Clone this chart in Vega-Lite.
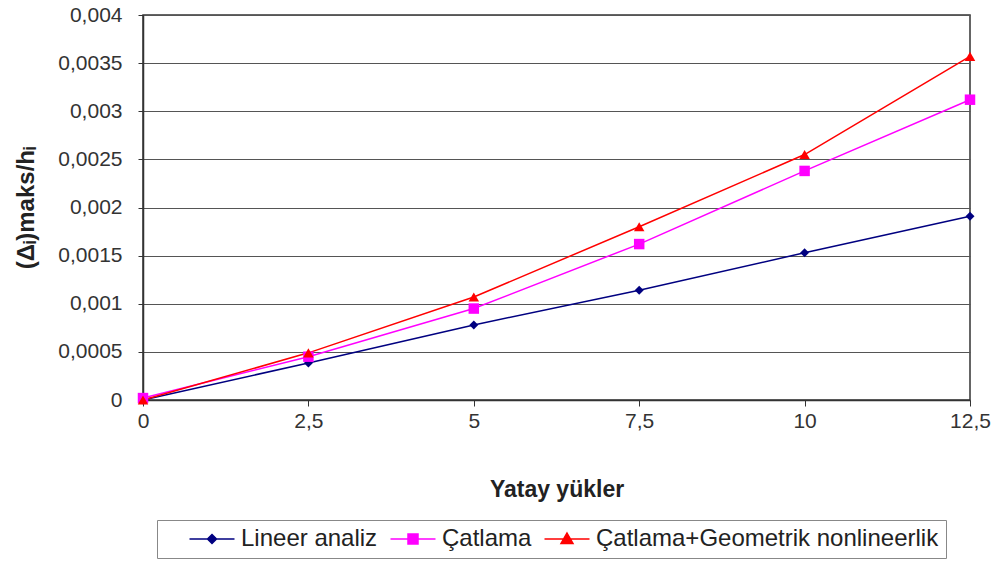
{
  "$schema": "https://vega.github.io/schema/vega-lite/v6.json",
  "autosize": "none",
  "width": 827,
  "height": 385,
  "padding": {"left": 143, "top": 15, "right": 30, "bottom": 162},
  "background": "white",
  "config": {
    "font": "Liberation Sans",
    "view": {"stroke": "#333", "strokeWidth": 1.5}
  },
  "data": {
    "values": [
      {"x": 0, "y": 0, "s": "Lineer analiz"},
      {"x": 2.5, "y": 0.000385, "s": "Lineer analiz"},
      {"x": 5, "y": 0.00078, "s": "Lineer analiz"},
      {"x": 7.5, "y": 0.00114, "s": "Lineer analiz"},
      {"x": 10, "y": 0.00153, "s": "Lineer analiz"},
      {"x": 12.5, "y": 0.00191, "s": "Lineer analiz"},
      {"x": 0, "y": 0.00002, "s": "Çatlama"},
      {"x": 2.5, "y": 0.00045, "s": "Çatlama"},
      {"x": 5, "y": 0.00095, "s": "Çatlama"},
      {"x": 7.5, "y": 0.00162, "s": "Çatlama"},
      {"x": 10, "y": 0.00238, "s": "Çatlama"},
      {"x": 12.5, "y": 0.00312, "s": "Çatlama"},
      {"x": 0, "y": 0, "s": "Çatlama+Geometrik nonlineerlik"},
      {"x": 2.5, "y": 0.00049, "s": "Çatlama+Geometrik nonlineerlik"},
      {"x": 5, "y": 0.00107, "s": "Çatlama+Geometrik nonlineerlik"},
      {"x": 7.5, "y": 0.0018, "s": "Çatlama+Geometrik nonlineerlik"},
      {"x": 10, "y": 0.00255, "s": "Çatlama+Geometrik nonlineerlik"},
      {"x": 12.5, "y": 0.00357, "s": "Çatlama+Geometrik nonlineerlik"}
    ]
  },
  "encoding": {
    "x": {
      "field": "x", "type": "quantitative",
      "scale": {"domain": [0, 12.5], "nice": false},
      "axis": {
        "values": [0, 2.5, 5, 7.5, 10, 12.5],
        "grid": false,
        "title": "Yatay yükler",
        "titleFontSize": 23, "titleFontWeight": "bold", "titleColor": "#222",
        "titlePadding": 47,
        "labelFontSize": 21, "labelColor": "#333", "labelPadding": 4,
        "labelExpr": "replace(format(datum.value, ''), '.', ',')",
        "domainColor": "#333", "domainWidth": 1.5,
        "tickColor": "#333", "tickSize": 6,
        "labelFlush": false
      }
    },
    "y": {
      "field": "y", "type": "quantitative",
      "scale": {"domain": [0, 0.004], "nice": false},
      "axis": {
        "values": [0, 0.0005, 0.001, 0.0015, 0.002, 0.0025, 0.003, 0.0035, 0.004],
        "title": "(Δᵢ)maks/hᵢ",
        "titleFontSize": 24, "titleFontWeight": "bold", "titleColor": "#222",
        "titlePadding": 19,
        "labelFontSize": 21, "labelColor": "#333", "labelPadding": 16,
        "labelExpr": "replace(format(datum.value, ''), '.', ',')",
        "gridColor": "#555", "gridWidth": 1.2, "gridOpacity": 1,
        "domainColor": "#333", "domainWidth": 1.5,
        "tickColor": "#333", "tickSize": 5,
        "labelFlush": false
      }
    },
    "color": {
      "field": "s", "type": "nominal",
      "scale": {
        "domain": ["Lineer analiz", "Çatlama", "Çatlama+Geometrik nonlineerlik"],
        "range": ["#000080", "#FF00FF", "#FF0000"]
      }
    }
  },
  "layer": [
    {
      "mark": {"type": "line", "strokeWidth": 1.5},
      "encoding": {
        "color": {
          "field": "s", "type": "nominal",
          "legend": {
            "title": " ",
            "titleOrient": "left",
            "titleFontSize": 10,
            "titlePadding": 24,
            "orient": "none",
            "legendX": 14,
            "legendY": 505,
            "direction": "horizontal",
            "columns": 3,
            "strokeColor": "#888",
            "fillColor": "white",
            "padding": 7,
            "columnPadding": 9,
            "labelFontSize": 24,
            "labelColor": "#222",
            "labelLimit": 400,
            "labelOffset": 17,
            "symbolSize": 400,
            "symbolOffset": 12,
            "symbolStrokeWidth": 1.5,
            "encode": {
              "symbols": {
                "update": {
                  "shape": {"signal": "datum.value == 'Lineer analiz' ? 'M-2.25,0H2.25M0,-0.45L0.45,0L0,0.45L-0.45,0Z' : datum.value == 'Çatlama' ? 'M-2.25,0H2.25M-0.5,-0.5H0.5V0.5H-0.5Z' : 'M-2.25,0H2.25M0,-0.6L0.6,0.45H-0.6Z'"},
                  "fill": {"signal": "scale('color', datum.value)"},
                  "stroke": {"signal": "scale('color', datum.value)"},
                  "strokeWidth": {"value": 1.5},
                  "opacity": {"value": 1}
                }
              }
            }
          }
        }
      }
    },
    {
      "mark": {"type": "point", "filled": true, "opacity": 1},
      "encoding": {
        "color": {"field": "s", "type": "nominal", "legend": null},
        "shape": {
          "condition": [
            {"test": "datum.s == 'Lineer analiz'", "value": "diamond"},
            {"test": "datum.s == 'Çatlama'", "value": "square"}
          ],
          "value": "triangle-up"
        },
        "size": {
          "condition": [
            {"test": "datum.s == 'Lineer analiz'", "value": 80}
          ],
          "value": 110
        }
      }
    }
  ]
}
